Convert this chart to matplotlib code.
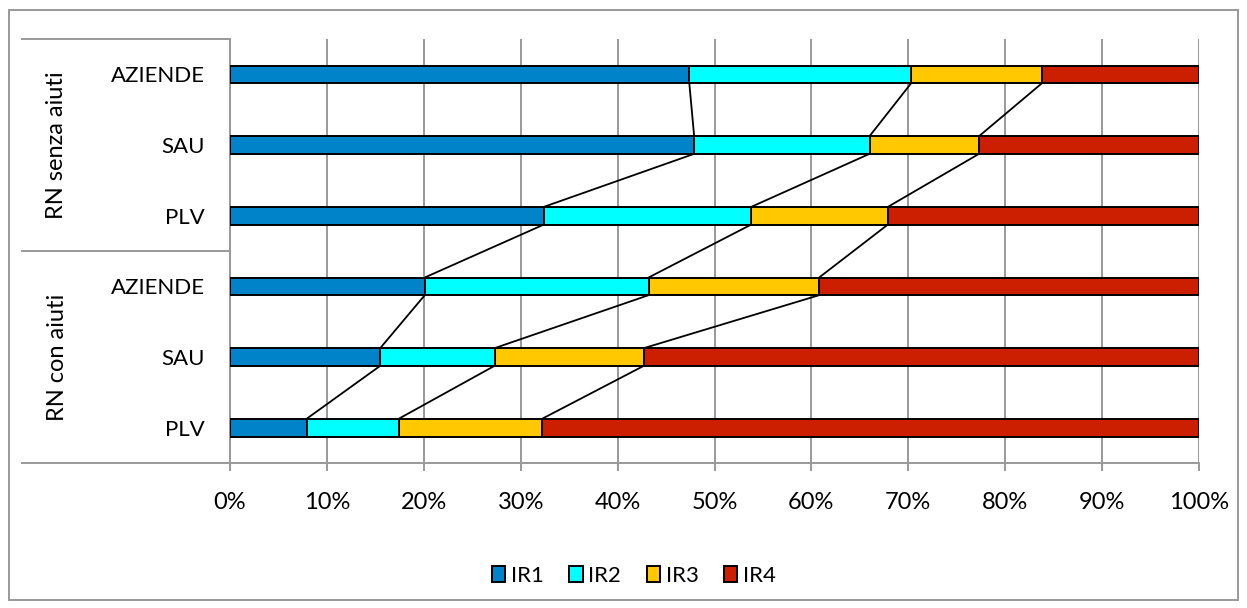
import matplotlib
matplotlib.use("Agg")
import matplotlib.pyplot as plt
from matplotlib.transforms import blended_transform_factory
from matplotlib.patches import Rectangle, Patch
from matplotlib.ticker import FuncFormatter

categories = ["AZIENDE", "SAU", "PLV", "AZIENDE", "SAU", "PLV"]
groups = ["RN senza aiuti", "RN con aiuti"]
series = ["IR1", "IR2", "IR3", "IR4"]
ir1 = [47.4, 47.9, 32.4, 20.1, 15.5, 7.9]
ir2 = [22.9, 18.1, 21.4, 23.1, 11.8, 9.5]
ir3 = [13.5, 11.3, 14.1, 17.6, 15.4, 14.8]
ir4 = [16.2, 22.7, 32.1, 39.2, 57.3, 67.8]
colors = ["#0083C9", "#00FFFF", "#FFC800", "#CC1E00"]

plt.rcParams['font.family'] = ['Lato', 'DejaVu Sans']
FS = 16
W, H = 1247, 608
fig = plt.figure(figsize=(W / 100, H / 100), dpi=100)

L, R, T, B = 230, 1199, 39, 463
ax = fig.add_axes([L / W, 1 - B / H, (R - L) / W, (B - T) / H])

n = len(categories)
ypos = list(range(n))
bh = 0.25
vals = [ir1, ir2, ir3, ir4]
left = [0.0] * n
bounds = []
for s, v, c in zip(series, vals, colors):
    ax.barh(ypos, v, left=left, height=bh, color=c, edgecolor='black',
            linewidth=1.4, label=s, zorder=3)
    left = [a + b for a, b in zip(left, v)]
    bounds.append(list(left))

# series lines between consecutive bars
for b in bounds[:3]:
    for i in range(n - 1):
        ax.plot([b[i], b[i + 1]], [i + bh / 2, i + 1 - bh / 2],
                color='black', lw=1.3, zorder=4, solid_capstyle='butt')

ax.set_xlim(0, 100)
ax.set_ylim(n - 0.5, -0.5)
ax.set_xticks(range(0, 101, 10))
ax.xaxis.set_major_formatter(FuncFormatter(lambda x, p: f"{int(x)}%"))
ax.grid(axis='x', color='#999999', lw=1.4, zorder=0)
ax.tick_params(axis='x', length=6, width=1.4, color='#999999', pad=15,
               labelsize=17)
ax.set_yticks(ypos)
ax.set_yticklabels(categories, fontsize=FS)
ax.tick_params(axis='y', length=0, pad=18)
for sp in ['top', 'right']:
    ax.spines[sp].set_visible(False)
for sp in ['left', 'bottom']:
    ax.spines[sp].set_color('#999999')
    ax.spines[sp].set_linewidth(1.4)

tr = blended_transform_factory(ax.transAxes, ax.transData)
x0 = (22 - L) / (R - L)
for yb in [-0.5, 2.5, 5.5]:
    ax.plot([x0, 0], [yb, yb], transform=tr, color='#999999', lw=1.4,
            clip_on=False)
xg = (57 - L) / (R - L)
ax.text(xg, 1, groups[0], transform=tr, rotation=90, ha='center',
        va='center', fontsize=17)
ax.text(xg, 4, groups[1], transform=tr, rotation=90, ha='center',
        va='center', fontsize=17)

handles = [Patch(facecolor=c, edgecolor='black', linewidth=1.4, label=s)
           for s, c in zip(series, colors)]
fig.legend(handles=handles, loc='center', bbox_to_anchor=(634 / W, 1 - 576 / H),
           ncol=4, frameon=False, fontsize=FS, handlelength=0.6,
           handleheight=0.7, handletextpad=0.25, columnspacing=1.15)

fig.patches.append(Rectangle((9 / W, 1 - 600 / H), (1238 - 9) / W,
                             (600 - 10) / H, transform=fig.transFigure,
                             fill=False, edgecolor='#999999', lw=1.4))

fig.savefig("out.png", dpi=100)
